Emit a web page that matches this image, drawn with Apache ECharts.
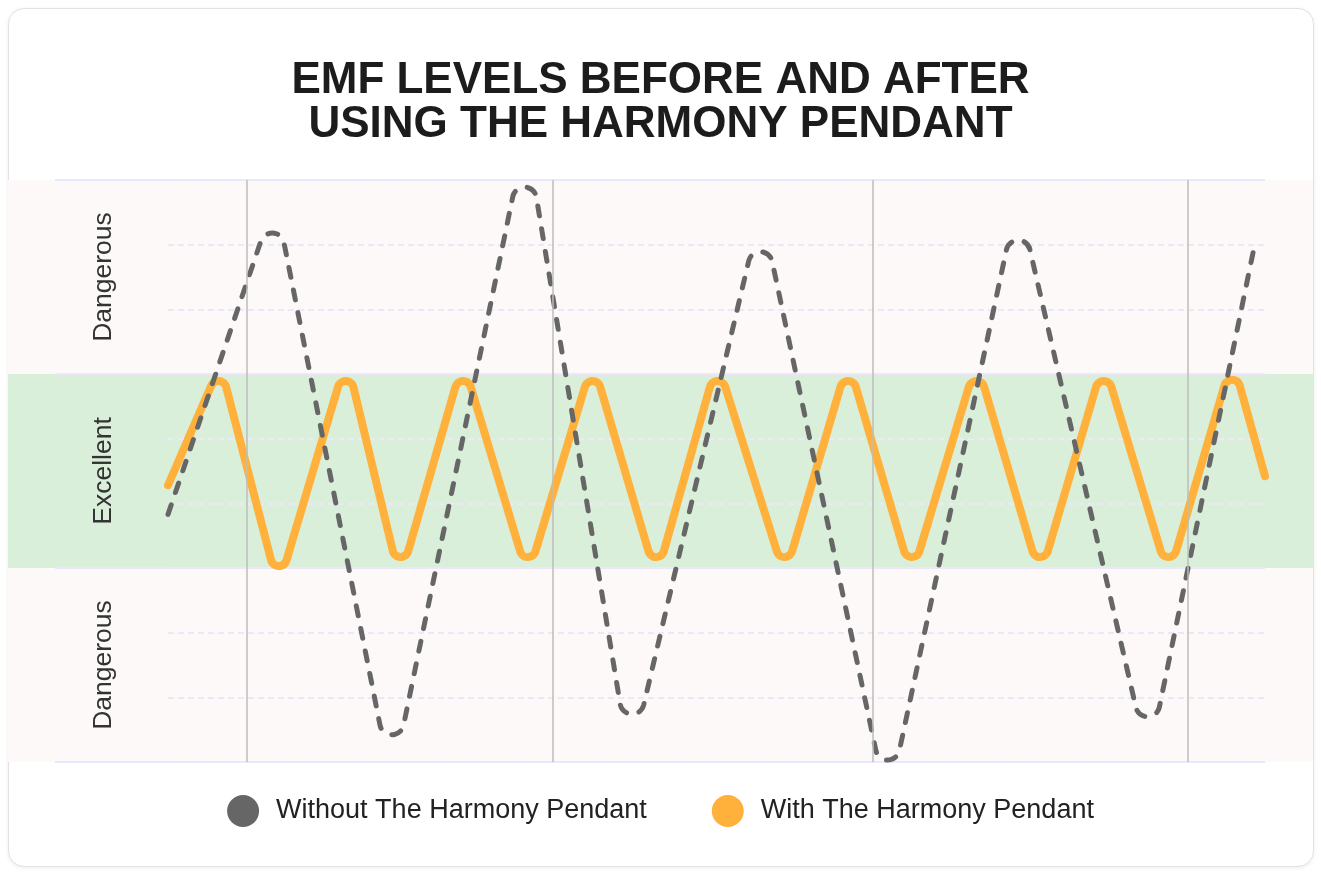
<!DOCTYPE html>
<html><head><meta charset="utf-8">
<script src="https://cdn.jsdelivr.net/npm/echarts@6/dist/echarts.min.js"></script>
<style>
html,body{margin:0;padding:0;background:#fff;width:1321px;height:874px;overflow:hidden}
#card{position:absolute;left:8px;top:8px;width:1306px;height:859px;box-sizing:border-box;border:1px solid #e2e2e2;border-radius:16px;box-shadow:0 1px 4px rgba(0,0,0,0.07);background:#fff}
#chart{position:absolute;left:0;top:0;width:1321px;height:874px}
</style></head><body>
<div id="card"></div><div id="chart"></div>
<script>
// ---- data ----
const titleText = 'EMF LEVELS BEFORE AND AFTER\nUSING THE HARMONY PENDANT';
const bandLabels = ['Dangerous', 'Excellent', 'Dangerous'];          // bottom -> top
const bandColors = ['#fdf9f8', '#d9efd9', '#fdf9f8'];
const seriesNames = ['Without The Harmony Pendant', 'With The Harmony Pendant'];

// EMF level (0..9 scale, 3..6 = excellent band) over time (0..100)
const withoutX = [0, 9.5, 20.4, 32.5, 42.3, 54.0, 65.6, 77.5, 89.3, 99.0];
const withoutY = [3.83, 8.18, 0.42, 8.89, 0.74, 7.89, 0.03, 8.07, 0.70, 7.95];
const withX = [0, 4.6, 10.1, 16.2, 21.2, 26.9, 32.8, 38.7, 44.5, 50.1, 56.2, 62.0, 67.8, 73.7, 79.5, 85.3, 91.2, 97.0, 100];
const withY = [4.28, 5.89, 3.03, 5.89, 3.17, 5.89, 3.17, 5.89, 3.17, 5.89, 3.17, 5.89, 3.17, 5.89, 3.17, 5.89, 3.17, 5.91, 4.42];
const dividerX = [7.2, 35.1, 64.2, 93.0];
const yMin = 0, yMax = 9, bandStep = 3, minorStep = 1;
const xMin = 0, xMax = 100;

const zip = (xs, ys) => xs.map((x, i) => [x, ys[i]]);
const FONT = '"Liberation Sans", Arial, Helvetica, sans-serif';

// Polyline through the points (placed via api.coord) with rounded turning points
function roundedPath(api, n, R) {
  const P = [];
  for (let j = 0; j < n; j++) P.push(api.coord([api.value(0, j), api.value(1, j)]));
  const f = v => v.toFixed(2);
  let d = 'M' + f(P[0][0]) + ' ' + f(P[0][1]);
  for (let i = 1; i < n - 1; i++) {
    const a = P[i - 1], p = P[i], c = P[i + 1];
    const isPeak = p[1] < a[1] && p[1] < c[1];
    const s = isPeak ? 1 : -1;
    const C = [p[0], p[1] + s * R];
    const tp = (q0, q1) => {
      const dx = q1[0] - q0[0], dy = q1[1] - q0[1], L = Math.hypot(dx, dy);
      return [C[0] + s * R * dy / L, C[1] - s * R * dx / L];
    };
    const tin = tp(a, p), tout = tp(p, c);
    d += ' L' + f(tin[0]) + ' ' + f(tin[1]) +
         ' A' + R + ' ' + R + ' 0 0 ' + (isPeak ? 1 : 0) + ' ' + f(tout[0]) + ' ' + f(tout[1]);
  }
  d += ' L' + f(P[n - 1][0]) + ' ' + f(P[n - 1][1]);
  return d;
}
function lineRenderer(R, style) {
  return function (params, api) {
    if (params.dataIndexInside !== 0) return null;
    return {type: 'path', shape: {pathData: roundedPath(api, params.dataInsideLength, R)},
      style: Object.assign({fill: 'none', lineCap: 'round', lineJoin: 'round'}, style)};
  };
}

const chart = echarts.init(document.getElementById('chart'), null, {renderer: 'canvas'});
const gridPos = {top: 180, bottom: 112};
chart.setOption({
  animation: false,
  backgroundColor: 'transparent',
  title: {
    text: titleText, left: 'center', top: 59, padding: 0,
    textStyle: {fontFamily: FONT, fontSize: 44, fontWeight: 'bold', color: '#1c1c1c', lineHeight: 44}
  },
  legend: {
    data: seriesNames, top: 790, left: 'center', icon: 'circle',
    itemWidth: 32, itemHeight: 32, itemGap: 65,
    itemStyle: {borderWidth: 0},
    textStyle: {fontFamily: FONT, fontSize: 27, color: '#222', padding: [0, 0, 0, 12]}
  },
  grid: [
    Object.assign({left: 8, right: 8}, gridPos),
    Object.assign({left: 55, right: 56}, gridPos),
    Object.assign({left: 168, right: 56}, gridPos)
  ],
  xAxis: [
    {gridIndex: 0, type: 'value', min: 0, max: 1, show: false},
    {gridIndex: 1, type: 'value', min: 0, max: 1, show: false},
    {gridIndex: 2, type: 'value', min: xMin, max: xMax, show: false}
  ],
  yAxis: [
    {gridIndex: 0, type: 'category', data: bandLabels, z: -1,
      axisLine: {show: false}, axisTick: {show: false},
      axisLabel: {inside: true, rotate: 90, margin: 82, fontFamily: FONT, fontSize: 26.5, color: '#333'},
      splitLine: {show: false},
      splitArea: {show: true, areaStyle: {color: bandColors, opacity: 1}}},
    {gridIndex: 1, type: 'value', min: yMin, max: yMax, interval: bandStep,
      axisLine: {show: false}, axisTick: {show: false}, axisLabel: {show: false},
      splitLine: {show: true, lineStyle: {color: '#ebe6fb', width: 2, type: 'solid'}}},
    {gridIndex: 2, type: 'value', min: yMin, max: yMax, interval: minorStep,
      axisLine: {show: false}, axisTick: {show: false}, axisLabel: {show: false},
      splitLine: {show: true, lineStyle: {color: '#ece8fa', width: 2, type: [6, 4]}}}
  ],
  series: [
    {type: 'line', xAxisIndex: 2, yAxisIndex: 2, data: [], silent: true,
      markLine: {silent: true, symbol: ['none', 'none'], label: {show: false},
        lineStyle: {color: '#bdbdbd', width: 1.5, type: 'solid'},
        data: dividerX.map(v => ({xAxis: v}))}},
    {name: seriesNames[1], type: 'custom', xAxisIndex: 2, yAxisIndex: 2, silent: true,
      data: zip(withX, withY), itemStyle: {color: '#ffb13b'},
      renderItem: lineRenderer(8, {stroke: '#ffb13b', lineWidth: 8})},
    {name: seriesNames[0], type: 'custom', xAxisIndex: 2, yAxisIndex: 2, silent: true,
      data: zip(withoutX, withoutY), itemStyle: {color: '#666666'},
      renderItem: lineRenderer(12, {stroke: '#666666', lineWidth: 5, lineDash: [10, 13]})}
  ]
});
</script></body></html>
